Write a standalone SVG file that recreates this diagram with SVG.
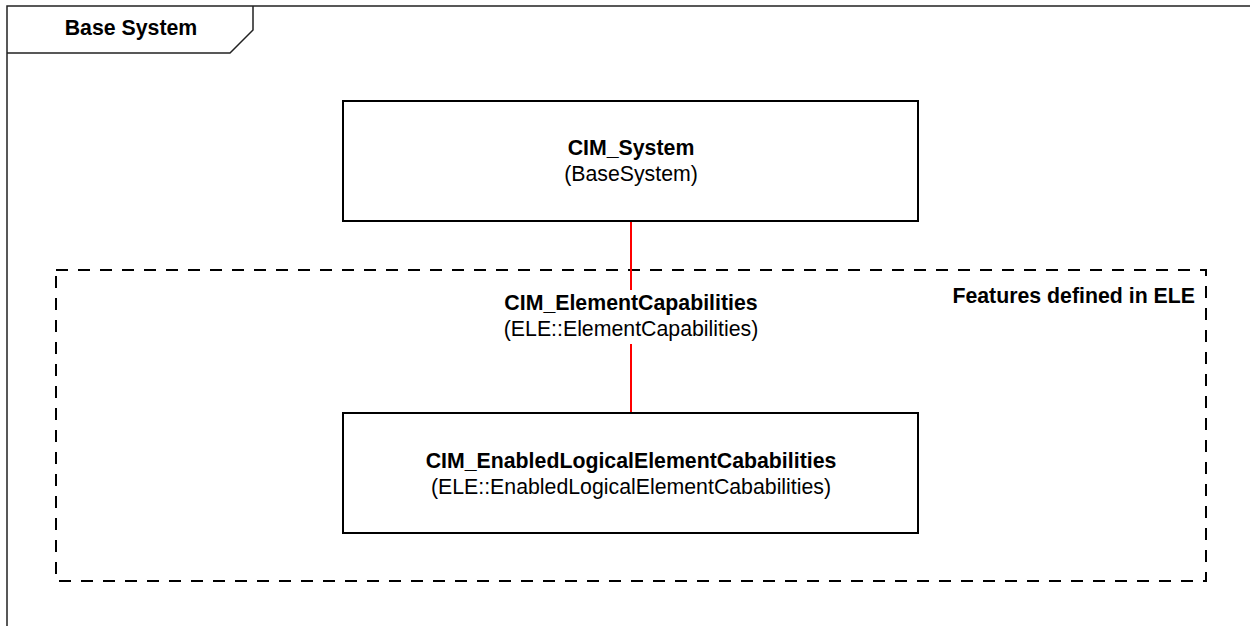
<svg xmlns="http://www.w3.org/2000/svg" width="1250" height="626" viewBox="0 0 1250 626">
  <style>
    .frame { fill: none; stroke: #222; stroke-width: 1.5; }
    .box { fill: #fff; stroke: #000; stroke-width: 2; }
    .pkg { fill: none; stroke: #000; stroke-width: 2; stroke-dasharray: 12 10; }
    .conn { fill: none; stroke: #f00; stroke-width: 2; }
    .t { font-family: "Liberation Sans", Arial, sans-serif; font-size: 21.3px; fill: #000; }
    .b { font-weight: bold; }
    .c { text-anchor: middle; }
  </style>
  <rect width="1250" height="626" fill="#fff"/>

  <!-- diagram frame with name tab -->
  <g id="frame">
    <path class="frame" d="M7 626 V6 H1250"/>
    <path class="frame" d="M7 53 H230 L253 30 V6"/>
    <text class="t b c" x="131" y="35">Base System</text>
  </g>

  <!-- ELE feature region -->
  <g id="ele-region">
    <rect class="pkg" x="56" y="270" width="1150" height="311"/>
    <text class="t b" x="1195" y="303" text-anchor="end">Features defined in ELE</text>
  </g>

  <!-- connectors -->
  <g id="connectors">
    <path class="conn" d="M631 221 V290 M631 344 V413"/>
    <g id="assoc-label">
      <text class="t b c" x="631" y="310">CIM_ElementCapabilities</text>
      <text class="t c" x="631" y="336">(ELE::ElementCapabilities)</text>
    </g>
  </g>

  <g id="cim-system">
    <rect class="box" x="343" y="101" width="575" height="120"/>
    <text class="t b c" x="631" y="155">CIM_System</text>
    <text class="t c" x="631" y="181">(BaseSystem)</text>
  </g>

  <g id="cim-enabled-logical-element-capabilities">
    <rect class="box" x="343" y="413" width="575" height="120"/>
    <text class="t b c" x="631" y="468">CIM_EnabledLogicalElementCababilities</text>
    <text class="t c" x="631" y="494">(ELE::EnabledLogicalElementCababilities)</text>
  </g>
</svg>
